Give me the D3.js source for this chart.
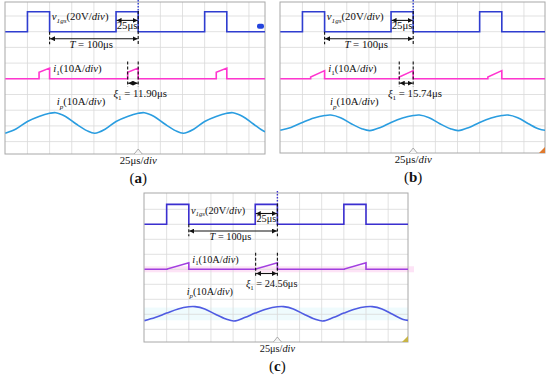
<!DOCTYPE html>
<html>
<head>
<meta charset="utf-8">
<script src="https://cdn.jsdelivr.net/npm/d3@7"></script>
<style>
    body { margin: 0; background: #fff; }
    svg text { font-family: "Liberation Serif", "Times New Roman", serif; fill: #111; }
</style>
</head>
<body>
<div id="chart"></div>
<script>
// values (time in μs, amplitude in div)
var panelNames = ["a", "b", "c"];
var xiValues = [11.90, 15.74, 24.56];          // μs
var gateRise = [25, 125, 225];                  // μs
var pulseWidth = 25;                            // μs
var gateLow = [8, 8, 8];
var gateHigh = [9.27, 9.27, 9.33];
var i1Base = [5, 5, 5];
var i1Start = [5.42, 5.12, 5.02];
var i1End = [5.68, 5.52, 5.44];
var ipTimes = [0, 12, 25, 38, 50, 57, 68, 80, 92, 101, 113, 125, 138, 150, 157, 168, 180, 192, 201, 213, 225, 238, 250, 257, 268, 280, 292, 300];
var ipA = [1.53, 1.80, 2.28, 2.60, 2.80, 2.84, 2.60, 2.12, 1.70, 1.53, 1.80, 2.28, 2.60, 2.80, 2.84, 2.60, 2.12, 1.70, 1.53, 1.80, 2.28, 2.60, 2.80, 2.84, 2.60, 2.12, 1.66, 1.55];
var ipB = [1.72, 1.90, 2.22, 2.50, 2.66, 2.69, 2.52, 2.14, 1.82, 1.70, 1.90, 2.22, 2.50, 2.66, 2.69, 2.52, 2.14, 1.82, 1.70, 1.90, 2.22, 2.50, 2.66, 2.69, 2.52, 2.14, 1.80, 1.72];
var ipC = [1.58, 1.78, 2.08, 2.36, 2.50, 2.51, 2.36, 2.00, 1.68, 1.55, 1.78, 2.08, 2.36, 2.50, 2.51, 2.36, 2.00, 1.68, 1.55, 1.78, 2.08, 2.36, 2.50, 2.51, 2.36, 2.00, 1.66, 1.58];
var ipSeries = [ipA, ipB, ipC];
var timeDiv = 25;                               // μs per div
var trigger = 150;                              // μs

// placement of each capture on the page
var layout = [
    {x0: 5.3, left: 5, right: 265, top: 2, bottom: 154, y0: 157.3, div: 15.7, fs: 10.8,
     cols: {gate: "#2f3dd0", i1: "#ff35cf", ip: "#2a9de0"}, xiText: 122, ipText: 58, corner: null, chMark: true},
    {x0: 280.3, left: 280, right: 545, top: 2, bottom: 153, y0: 157.3, div: 15.7, fs: 10.8,
     cols: {gate: "#2f3dd0", i1: "#ff35cf", ip: "#2a9de0"}, xiText: 121.5, ipText: 56, corner: "#e07a2e", chMark: false},
    {x0: 144.5, left: 144, right: 408, top: 193, bottom: 342, y0: 344.3, div: 15, fs: 10.3,
     cols: {gate: "#3b2fd0", i1: "#a13fe0", ip: "#4f5be2"}, xiText: 114.5, ipText: 47.6, corner: "#c8b445", chMark: false, haze: true}
];

var W = 550, H = 383;
var svg = d3.select("#chart").append("svg").attr("width", W).attr("height", H);

var defs = svg.append("defs");
defs.append("marker")
    .attr("id", "arr")
    .attr("viewBox", "0 0 6 6")
    .attr("markerWidth", 5).attr("markerHeight", 5)
    .attr("markerUnits", "userSpaceOnUse")
    .attr("refX", 6).attr("refY", 3)
    .attr("orient", "auto-start-reverse")
    .append("path").attr("d", "M0,0 L6,3 L0,6 z").attr("fill", "#111");

// text made of pieces: [text, kind] kind = "", "i", "sub", "isub"
function richText(g, x, y, parts, size, anchor) {
    var t = g.append("text").attr("x", x).attr("y", y)
        .attr("font-size", size).attr("text-anchor", anchor || "start");
    var shifted = false;
    parts.forEach(function (p) {
        var s = t.append("tspan").text(p[0]);
        var sub = p[1] == "sub" || p[1] == "isub";
        if (p[1] == "i" || p[1] == "isub") s.attr("font-style", "italic");
        if (sub) {
            s.attr("font-size", size * 0.66);
            if (!shifted) s.attr("dy", size * 0.28);
            shifted = true;
        } else if (shifted) {
            s.attr("dy", -size * 0.28);
            shifted = false;
        }
    });
    return t;
}

function drawPanel(k) {
    var L = layout[k];
    var g = svg.append("g").attr("class", "panel-" + panelNames[k]);

    var x = d3.scaleLinear().domain([0, timeDiv]).range([L.x0, L.x0 + 22.15]);
    var y = d3.scaleLinear().domain([0, 1]).range([L.y0, L.y0 - L.div]);
    var tMax = x.invert(L.right);

    defs.append("clipPath").attr("id", "clip-" + k)
        .append("rect").attr("x", L.left).attr("y", L.top)
        .attr("width", L.right - L.left).attr("height", L.bottom - L.top);

    // light haze bands of panel (c)
    if (L.haze) {
        g.append("rect").attr("x", L.left).attr("width", L.right - L.left + 6)
            .attr("y", y(i1Base[k]) - 3).attr("height", 6).attr("fill", "#fde3f6");
        g.append("rect").attr("x", L.left).attr("width", L.right - L.left)
            .attr("y", y(2.45)).attr("height", y(1.6) - y(2.45)).attr("fill", "#effbfd");
    }

    // grid
    var vTicks = d3.range(timeDiv, tMax, timeDiv);
    g.append("g").selectAll("line").data(vTicks).join("line")
        .attr("x1", function (d) { return x(d); }).attr("x2", function (d) { return x(d); })
        .attr("y1", L.top).attr("y2", L.bottom)
        .attr("stroke", "#d9d9d9").attr("stroke-width", 0.8);
    var hTicks = d3.range(1, 10).filter(function (d) { return y(d) > L.top + 1 && y(d) < L.bottom - 1; });
    g.append("g").selectAll("line").data(hTicks).join("line")
        .attr("x1", L.left).attr("x2", L.right)
        .attr("y1", function (d) { return y(d); }).attr("y2", function (d) { return y(d); })
        .attr("stroke", "#d9d9d9").attr("stroke-width", 0.8);
    g.append("rect").attr("x", L.left).attr("y", L.top)
        .attr("width", L.right - L.left).attr("height", L.bottom - L.top)
        .attr("fill", "none").attr("stroke", "#a8a8a8").attr("stroke-width", 1);

    var line = d3.line().x(function (d) { return x(d[0]); }).y(function (d) { return y(d[1]); });
    var traces = g.append("g").attr("clip-path", "url(#clip-" + k + ")");

    // gate voltage
    var gatePts = [[0, gateLow[k]]];
    gateRise.forEach(function (r) {
        gatePts.push([r, gateLow[k]], [r, gateHigh[k]], [r + pulseWidth, gateHigh[k]], [r + pulseWidth, gateLow[k]]);
    });
    gatePts.push([tMax, gateLow[k]]);
    traces.append("path").attr("d", line(gatePts))
        .attr("fill", "none").attr("stroke", L.cols.gate).attr("stroke-width", 1.6);

    // switch current i1
    var i1Pts = [[0, i1Base[k]]];
    gateRise.forEach(function (r) {
        var e = r + pulseWidth, s = e - xiValues[k];
        i1Pts.push([s, i1Base[k]], [s, i1Start[k]], [e, i1End[k]], [e, i1Base[k]]);
    });
    i1Pts.push([tMax, i1Base[k]]);
    traces.append("path").attr("d", line(i1Pts))
        .attr("fill", "none").attr("stroke", L.cols.i1).attr("stroke-width", 1.6);

    // primary current ip
    var ipPts = ipTimes.map(function (t, i) { return [t, ipSeries[k][i]]; });
    traces.append("path").attr("d", line.curve(d3.curveCatmullRom)(ipPts))
        .attr("fill", "none").attr("stroke", L.cols.ip).attr("stroke-width", 1.6);
    line.curve(d3.curveLinear);

    // trigger marker at top and bottom
    g.append("line").attr("x1", x(trigger)).attr("x2", x(trigger))
        .attr("y1", L.top - 2).attr("y2", y(gateHigh[k]) - 1)
        .attr("stroke", L.cols.gate).attr("stroke-width", 1.4).attr("stroke-dasharray", "1.5,1.5");
    g.append("path")
        .attr("d", "M" + (x(trigger) - 4) + "," + L.bottom + " L" + x(trigger) + "," + (L.bottom - 5) + " L" + (x(trigger) + 4) + "," + L.bottom)
        .attr("fill", "#f4f4f4").attr("stroke", "#999").attr("stroke-width", 0.8);
    if (L.corner) {
        g.append("path")
            .attr("d", "M" + (L.right - 6) + "," + L.bottom + " L" + L.right + "," + (L.bottom - 6) + " L" + L.right + "," + L.bottom + " z")
            .attr("fill", L.corner);
    }
    if (L.chMark) {
        g.append("rect").attr("x", L.right - 8).attr("y", y(8.35) - 2.5)
            .attr("width", 7).attr("height", 5).attr("rx", 2).attr("fill", "#2444dd");
    }

    // dashed guides
    var dash = function (t, d1, d2) {
        g.append("line").attr("x1", x(t)).attr("x2", x(t)).attr("y1", y(d1)).attr("y2", y(d2))
            .attr("stroke", "#111").attr("stroke-width", 1.1).attr("stroke-dasharray", "3,2");
    };
    var arrow = function (t1, t2, d) {
        g.append("line").attr("x1", x(t1) + 0.5).attr("x2", x(t2) - 0.5).attr("y1", y(d)).attr("y2", y(d))
            .attr("stroke", "#111").attr("stroke-width", 1.1)
            .attr("marker-start", "url(#arr)").attr("marker-end", "url(#arr)");
    };
    var xiStart = trigger - xiValues[k];
    dash(50, gateLow[k], 7.2);
    dash(trigger, gateHigh[k] + 0.05, 7.2);
    dash(xiStart, 6.1, 4.5);
    dash(trigger, 6.1, 4.5);
    arrow(trigger - pulseWidth, trigger, 8.72);
    arrow(50, trigger, 7.55);
    arrow(xiStart, trigger, 4.72);

    var fs = L.fs;
    richText(g, x(52.5), y(8.72), [["v", "i"], ["1gs", "isub"], ["(20V/", ""], ["div", "i"], [")", ""]], fs);
    richText(g, x(137.5), y(8.16), [["25μs", ""]], fs, "middle");
    richText(g, x(97), y(6.98), [["T", "i"], [" = 100μs", ""]], fs, "middle");
    richText(g, x(54), y(5.45), [["i", "i"], ["1", "sub"], ["(10A/", ""], ["div", "i"], [")", ""]], fs);
    richText(g, x(L.xiText), y(3.84), [["ξ", "i"], ["1", "sub"], [" = " + xiValues[k].toFixed(2) + "μs", ""]], fs);
    richText(g, x(L.ipText), y(3.3), [["i", "i"], ["p", "isub"], ["(10A/", ""], ["div", "i"], [")", ""]], fs);

    richText(g, x(trigger), L.bottom + 9.5, [["25μs/", ""], ["div", "i"]], fs, "middle");
    var cap = g.append("text").attr("x", x(trigger)).attr("y", L.bottom + 29)
        .attr("font-size", 15).attr("text-anchor", "middle");
    cap.append("tspan").text("(");
    cap.append("tspan").attr("font-weight", "bold").text(panelNames[k]);
    cap.append("tspan").text(")");
}

panelNames.forEach(function (n, k) { drawPanel(k); });
</script>
</body>
</html>
